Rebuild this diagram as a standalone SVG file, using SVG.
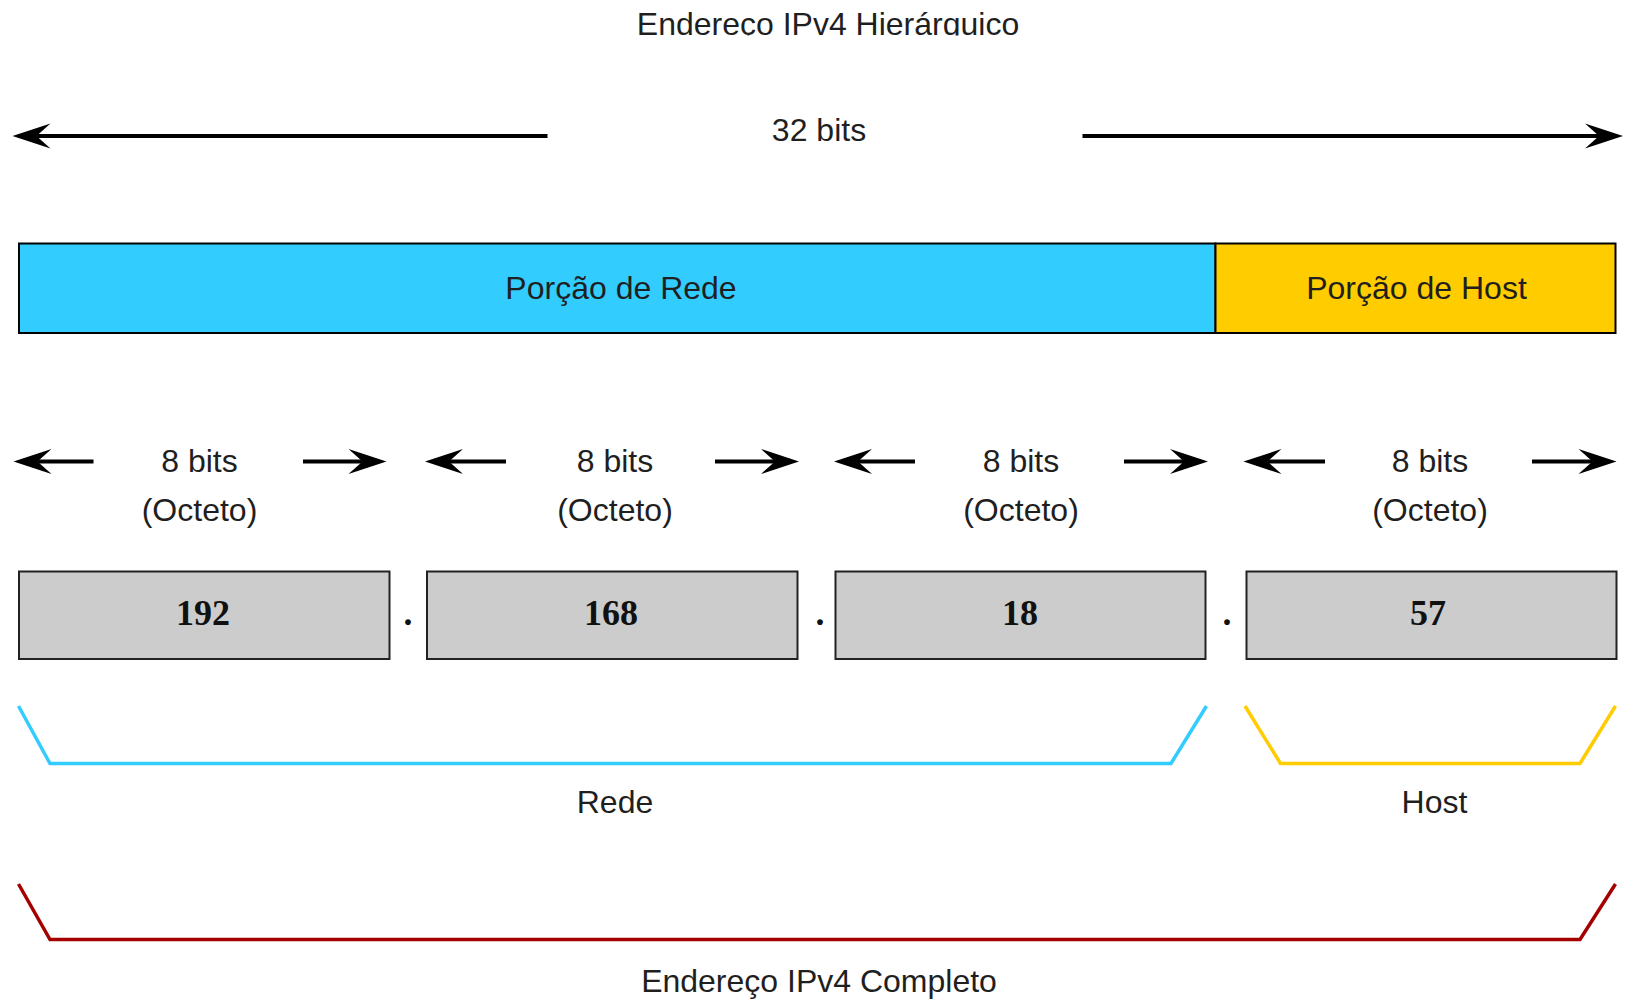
<svg xmlns="http://www.w3.org/2000/svg" width="1629" height="999" viewBox="0 0 1629 999">
<style>
text{font-family:"Liberation Sans",Arial,sans-serif;font-size:32px;fill:#1f1f1f;text-anchor:middle}
.num{font-family:"Liberation Serif","Times New Roman",serif;font-weight:bold;font-size:36px;fill:#111}
.arr{stroke:#000;stroke-width:4;fill:none;marker-end:url(#ah)}
.oct{fill:#cccccc;stroke:#222;stroke-width:2}
.br{fill:none;stroke-width:3.5;stroke-linejoin:miter}
</style>
<defs>
<marker id="ah" markerUnits="userSpaceOnUse" markerWidth="44" markerHeight="30" viewBox="0 0 44 30" refX="16" refY="15" orient="auto">
<path d="M40,15 L2,2.5 L16,15 L2,27.5 Z" fill="#000"/>
</marker>
<clipPath id="tclip"><rect x="0" y="0" width="1629" height="35.5"/></clipPath>
</defs>
<rect width="1629" height="999" fill="#fff"/>
<g id="title"><text x="828" y="35" clip-path="url(#tclip)">Endereço IPv4 Hierárquico</text></g>
<g id="bits32"><text x="819" y="141">32 bits</text></g>
<g id="rede-portion"><rect x="19" y="243.5" width="1196.5" height="89.5" fill="#33ccff" stroke="#000" stroke-width="2"/><text x="621" y="299">Porção de Rede</text></g>
<g id="host-portion"><rect x="1215.5" y="243.5" width="400" height="89.5" fill="#ffcc00" stroke="#000" stroke-width="2"/><text x="1416.5" y="299">Porção de Host</text></g>
<g id="octet-labels">
<text x="199.5" y="472">8 bits</text><text x="199.5" y="520.5">(Octeto)</text>
<text x="615" y="472">8 bits</text><text x="615" y="520.5">(Octeto)</text>
<text x="1021" y="472">8 bits</text><text x="1021" y="520.5">(Octeto)</text>
<text x="1430" y="472">8 bits</text><text x="1430" y="520.5">(Octeto)</text>
</g>
<g id="octet1"><rect class="oct" x="19" y="571.5" width="370.5" height="87.5"/><text class="num" x="203" y="625">192</text></g>
<g id="octet2"><rect class="oct" x="427" y="571.5" width="370.5" height="87.5"/><text class="num" x="611" y="625">168</text></g>
<g id="octet3"><rect class="oct" x="835.5" y="571.5" width="370" height="87.5"/><text class="num" x="1020" y="625">18</text></g>
<g id="octet4"><rect class="oct" x="1246.5" y="571.5" width="370" height="87.5"/><text class="num" x="1428" y="625">57</text></g>
<g id="dots">
<text class="num" x="408" y="625">.</text>
<text class="num" x="820" y="625">.</text>
<text class="num" x="1227" y="625">.</text>
</g>
<g id="connectors">
<line class="arr" x1="547.5" y1="136" x2="36.5" y2="136"/>
<line class="arr" x1="1082.5" y1="136" x2="1599" y2="136"/>
<line class="arr" x1="93.5" y1="461.5" x2="37.5" y2="461.5"/>
<line class="arr" x1="303" y1="461.5" x2="362.5" y2="461.5"/>
<line class="arr" x1="506" y1="461.5" x2="449" y2="461.5"/>
<line class="arr" x1="715" y1="461.5" x2="775" y2="461.5"/>
<line class="arr" x1="915" y1="461.5" x2="858" y2="461.5"/>
<line class="arr" x1="1124" y1="461.5" x2="1184" y2="461.5"/>
<line class="arr" x1="1325" y1="461.5" x2="1267.5" y2="461.5"/>
<line class="arr" x1="1532" y1="461.5" x2="1592.5" y2="461.5"/>
</g>
<g id="bracket-rede"><polyline class="br" stroke="#33ccff" points="18.5,706 50,763.5 1171,763.5 1206.5,706"/><text x="615" y="813">Rede</text></g>
<g id="bracket-host"><polyline class="br" stroke="#ffcc00" points="1245,706 1280.5,763.5 1580,763.5 1615.5,706"/><text x="1434.5" y="813">Host</text></g>
<g id="bracket-full"><polyline class="br" stroke="#a50000" points="18.5,884 50,939.5 1580,939.5 1615.5,884"/><text x="819" y="992">Endereço IPv4 Completo</text></g>
</svg>
